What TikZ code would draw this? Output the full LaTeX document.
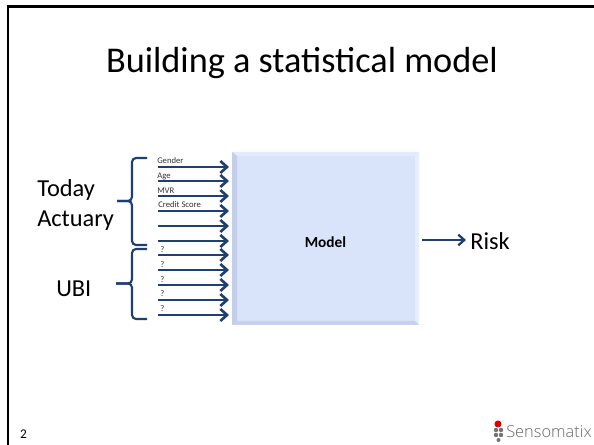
\documentclass[tikz,border=0pt]{standalone}
\usepackage{fontspec}
\setmainfont{Carlito}
\newfontfamily\logofont{Open Sans Light}
\definecolor{navy}{HTML}{1F3F6E}
\definecolor{boxfill}{HTML}{D9E4FB}
\definecolor{bevtop}{HTML}{E3EBFB}
\definecolor{bevleft}{HTML}{C3CFEA}
\definecolor{bevright}{HTML}{E6EDFB}
\definecolor{bevbot}{HTML}{C6D2EC}
\usetikzlibrary{arrows.meta}
\tikzset{
 px/.style={x=0.75pt,y=-0.75pt},
 barb/.style={-{Straight Barb[length=5pt,width=9pt,line width=2pt]}},
 inarrow/.style={draw=navy,line width=1.9pt,barb},
 outarrow/.style={draw=navy,line width=1.5pt,-{Straight Barb[length=4.5pt,width=8pt,line width=1.7pt]}},
 brace/.style={draw=navy,line width=1.6pt,rounded corners=3pt},
 tiny/.style={font=\fontsize{6.5}{7}\selectfont,text=black!80,inner sep=0pt,anchor=base west},
 big/.style={font=\fontsize{18.3}{20}\selectfont,text=black,inner sep=0pt,anchor=base west},
}
\begin{document}
\begin{tikzpicture}[px]
\useasboundingbox (0,0) rectangle (594,445);
\fill[white] (0,0) rectangle (594,445);
\draw[black,line width=1.9pt] (8,445) -- (8,6.5) -- (594,6.5);
\node[font=\fontsize{27.2}{30}\selectfont,inner sep=0pt,anchor=base] (title) at (302,73) {Building a statistical model};
% bevelled box
\node[fill=boxfill,minimum width=140.25pt,minimum height=129.75pt,inner sep=0pt,outer sep=0pt] (model) at (325.5,238.5) {};
\fill[bevtop] (232,152) -- (419,152) -- (415,156) -- (237,156) -- cycle;
\fill[bevleft] (232,152) -- (237,156) -- (237,321) -- (232,325) -- cycle;
\fill[bevright] (419,152) -- (415,156) -- (415,321) -- (419,325) -- cycle;
\fill[bevbot] (232,325) -- (237,321) -- (415,321) -- (419,325) -- cycle;
\node[font=\bfseries\fontsize{11.5}{13}\selectfont,inner sep=0pt,anchor=base] (mlabel) at (325.5,247.5) {Model};
\foreach \n/\y in {a/167,b/181,c/196,d/211,e/226,f/241,g/255,h/270,i/285,j/300,k/315}{
 \coordinate (s\n) at (158,\y);
 \coordinate (t\n) at (229,\y);
 \draw[inarrow] (s\n) -- (t\n);
}
\node[tiny] (l1) at (157,164) {Gender};
\node[tiny] (l2) at (157,178.5) {Age};
\node[tiny] (l3) at (157,194) {MVR};
\node[tiny] (l4) at (158,208) {Credit Score};
\foreach \n/\y in {5/253,6/267.5,7/282.5,8/297,9/312}{
 \node[tiny] (q\n) at (160,\y) {?};
}
\coordinate (b1t) at (147,158);\coordinate (b1b) at (147,245);\coordinate (b1m) at (117,201);
\coordinate (b2t) at (147,249);\coordinate (b2b) at (147,319);\coordinate (b2m) at (116,283.5);
\draw[brace] (b1t) -- (132,158) -- (132,201) -- (b1m);
\draw[brace] (b1m) -- (132,201) -- (132,245) -- (b1b);
\draw[brace] (b2t) -- (132,249) -- (132,283.5) -- (b2m);
\draw[brace] (b2m) -- (132,283.5) -- (132,319) -- (b2b);
\node[big] (today) at (37,197) {Today};
\node[big] (actuary) at (37,227) {Actuary};
\node[big] (ubi) at (56,297) {UBI};
\node[big] (risk) at (470,250) {Risk};
\coordinate (rs) at (422,240);
\coordinate (re) at (466,240);
\draw[outarrow] (rs) -- (re);
\node[font=\fontsize{10}{11}\selectfont,inner sep=0pt,anchor=base] (num) at (23.5,439) {2};
\fill[black!55] (496,430) circle (2.2) (501,430) circle (2.2) (496,435) circle (2.2) (501,435) circle (2.2) (498.5,440) circle (2);
\fill[red!85!black] (498,424) circle (3.5);
\node[font=\logofont\fontsize{12.3}{14}\selectfont,text=black!60,inner sep=0pt,anchor=base west] (logo) at (506,438) {Sensomatix};
\end{tikzpicture}
\end{document}
